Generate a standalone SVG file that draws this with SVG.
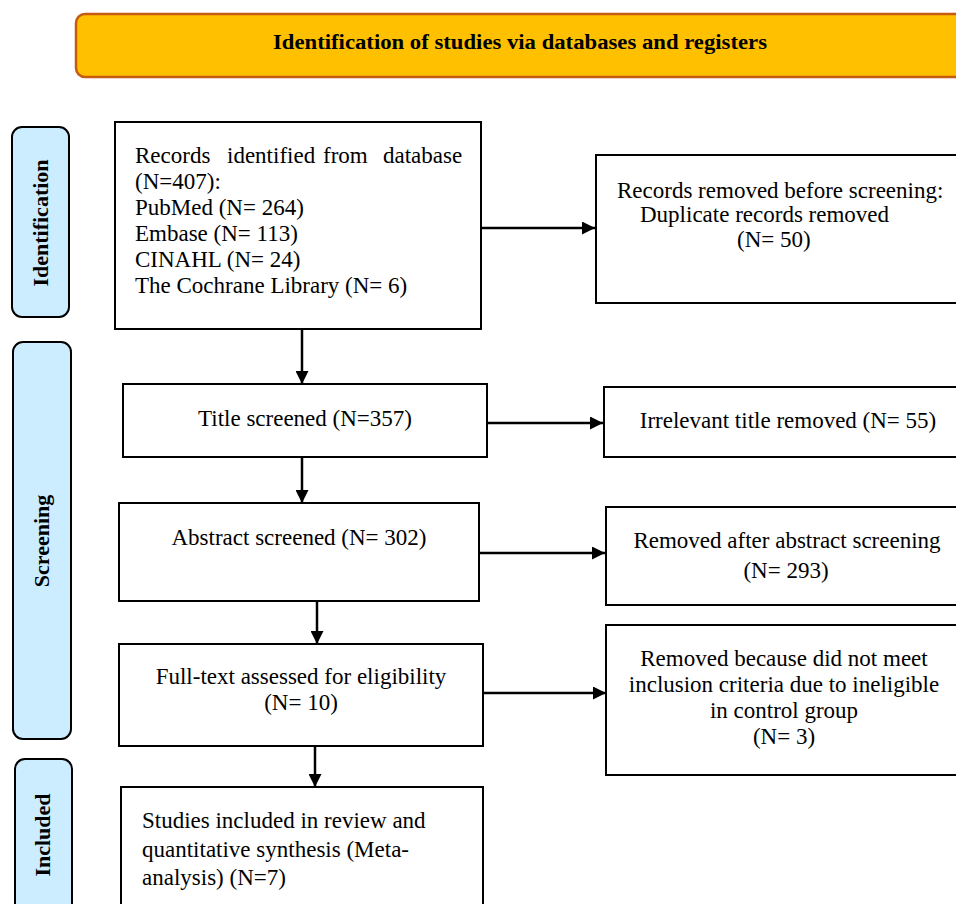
<svg xmlns="http://www.w3.org/2000/svg" width="956" height="904" viewBox="0 0 956 904">
<defs>
<marker id="ah" viewBox="0 0 10 10" refX="10" refY="5" markerWidth="13" markerHeight="13" markerUnits="userSpaceOnUse" orient="auto">
<path d="M0,0 L10,5 L0,10 Z" fill="#000"/>
</marker>
<style>
.box{fill:#fff;stroke:#000;stroke-width:2}
.side{fill:#CCECFF;stroke:#000;stroke-width:2}
.hdr{fill:#FFC000;stroke:#C55A11;stroke-width:2.5}
.t{font-family:"Liberation Serif","Times New Roman",serif;font-size:23px;fill:#000}
.c{text-anchor:middle}
.b{font-weight:bold;font-size:22px}
.conn line{stroke:#000;stroke-width:2.5;marker-end:url(#ah)}
</style>
</defs>
<rect width="956" height="904" fill="#fff"/>

<g id="header">
<rect class="hdr" x="76" y="14" width="900" height="63" rx="9"/>
<text class="t b" x="273" y="49" style="font-size:20px" textLength="494" lengthAdjust="spacingAndGlyphs">Identification of studies via databases and registers</text>
</g>

<g id="side-identification">
<rect class="side" x="12" y="127" width="57" height="190" rx="10"/>
<text class="t b c" transform="translate(48,223) rotate(-90)">Identification</text>
</g>
<g id="side-screening">
<rect class="side" x="13" y="342" width="58" height="397" rx="10"/>
<text class="t b c" transform="translate(49,541) rotate(-90)">Screening</text>
</g>
<g id="side-included">
<rect class="side" x="15" y="759" width="57" height="160" rx="10"/>
<text class="t b c" transform="translate(50,835) rotate(-90)">Included</text>
</g>

<g id="records-identified">
<rect class="box" x="115" y="122" width="366" height="207"/>
<text class="t" y="163"><tspan x="135">Records</tspan><tspan x="227">identified</tspan><tspan x="323">from</tspan><tspan x="383">database</tspan></text>
<text class="t" x="135" y="189">(N=407):</text>
<text class="t" x="135" y="215">PubMed (N= 264)</text>
<text class="t" x="135" y="241">Embase (N= 113)</text>
<text class="t" x="135" y="267">CINAHL (N= 24)</text>
<text class="t" x="135" y="293">The Cochrane Library (N= 6)</text>
</g>

<g id="records-removed">
<rect class="box" x="596" y="155" width="380" height="148"/>
<text class="t" x="617" y="198">Records removed before screening:</text>
<text class="t" x="640" y="222">Duplicate records removed</text>
<text class="t" x="737" y="247">(N= 50)</text>
</g>

<g id="title-screened">
<rect class="box" x="123" y="384" width="364" height="73"/>
<text class="t c" x="305" y="426">Title screened (N=357)</text>
</g>

<g id="irrelevant-title">
<rect class="box" x="604" y="387" width="372" height="70"/>
<text class="t c" x="788" y="428">Irrelevant title removed (N= 55)</text>
</g>

<g id="abstract-screened">
<rect class="box" x="119" y="503" width="360" height="98"/>
<text class="t c" x="299" y="545">Abstract screened (N= 302)</text>
</g>

<g id="removed-abstract">
<rect class="box" x="606" y="507" width="370" height="98"/>
<text class="t c" x="787" y="548">Removed after abstract screening</text>
<text class="t c" x="786" y="578">(N= 293)</text>
</g>

<g id="full-text">
<rect class="box" x="119" y="644" width="364" height="102"/>
<text class="t c" x="301" y="684">Full-text assessed for eligibility</text>
<text class="t c" x="301" y="710">(N= 10)</text>
</g>

<g id="removed-criteria">
<rect class="box" x="606" y="625" width="370" height="150"/>
<text class="t c" x="784" y="666">Removed because did not meet</text>
<text class="t c" x="784" y="692">inclusion criteria due to ineligible</text>
<text class="t c" x="784" y="718">in control group</text>
<text class="t c" x="784" y="744">(N= 3)</text>
</g>

<g id="included-studies">
<rect class="box" x="121" y="787" width="362" height="140"/>
<text class="t" x="142" y="828">Studies included in review and</text>
<text class="t" x="142" y="857">quantitative synthesis (Meta-</text>
<text class="t" x="142" y="885">analysis) (N=7)</text>
</g>

<g id="connectors" class="conn">
<line x1="481" y1="228" x2="595" y2="228"/>
<line x1="302" y1="329" x2="302" y2="384"/>
<line x1="487" y1="423" x2="603" y2="423"/>
<line x1="302" y1="457" x2="302" y2="503"/>
<line x1="479" y1="553" x2="605" y2="553"/>
<line x1="317" y1="601" x2="317" y2="644"/>
<line x1="483" y1="693" x2="606" y2="693"/>
<line x1="315" y1="746" x2="315" y2="787"/>
</g>
</svg>
